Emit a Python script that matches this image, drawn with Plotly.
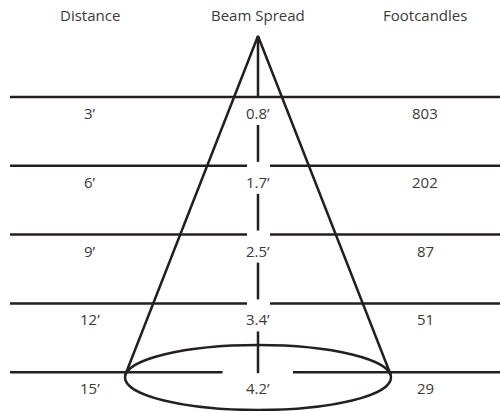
import plotly.graph_objects as go

# ---- data ----
headers = ["Distance", "Beam Spread", "Footcandles"]
distance_labels = ["3’", "6’", "9’", "12’", "15’"]
beam_spread_labels = ["0.8’", "1.7’", "2.5’", "3.4’", "4.2’"]
footcandle_labels = ["803", "202", "87", "51", "29"]

# ---- layout constants (pixel space) ----
W, H = 500, 411
FIRST_LINE_Y = 97
ROW_STEP = 68.8
COL_X = [90, 258, 425]
HEADER_Y = 15
LABEL_DY = 16
APEX = (258, 36)
ELL_CX, ELL_CY, ELL_RX, ELL_RY = 258, 377.5, 133, 32.5
INK = "#231f20"
TEXT = "#3a3a3a"
FONT = "Open Sans"
FSIZE = 15

n = len(distance_labels)
line_ys = [FIRST_LINE_Y + i * ROW_STEP for i in range(n)]

fig = go.Figure()

# horizontal row lines (with gaps around the centre labels)
hx, hy = [], []
for i, y in enumerate(line_ys):
    if i == 0:
        segs = [(10, W + 5)]
    elif i == n - 1:
        segs = [(10, 222.5), (293, W + 5)]
    else:
        segs = [(10, 247), (270, W + 5)]
    for a, b in segs:
        hx += [a, b, None]
        hy += [y, y, None]
fig.add_trace(go.Scatter(x=hx, y=hy, mode="lines",
                         line=dict(color=INK, width=2.5), hoverinfo="skip"))

# vertical centre axis, broken by labels
vx, vy = [APEX[0], APEX[0], None], [APEX[1], line_ys[0], None]
for i in range(n - 1):
    top = line_ys[i] + LABEL_DY + 12
    bot = line_ys[i + 1] - 4 if i + 1 < n - 1 else line_ys[i + 1] + 1
    vx += [APEX[0], APEX[0], None]
    vy += [top, bot, None]
fig.add_trace(go.Scatter(x=vx, y=vy, mode="lines",
                         line=dict(color=INK, width=2.5), hoverinfo="skip"))

# cone sides
fig.add_trace(go.Scatter(
    x=[ELL_CX - ELL_RX, APEX[0], ELL_CX + ELL_RX],
    y=[ELL_CY - 2, APEX[1], ELL_CY - 2],
    mode="lines", line=dict(color=INK, width=2.5), hoverinfo="skip"))

# base ellipse
fig.add_shape(type="circle", xref="x", yref="y",
              x0=ELL_CX - ELL_RX, x1=ELL_CX + ELL_RX,
              y0=ELL_CY - ELL_RY, y1=ELL_CY + ELL_RY,
              line=dict(color=INK, width=2.5))

# text
for x, h in zip(COL_X, headers):
    fig.add_annotation(x=x, y=HEADER_Y, text=h, showarrow=False,
                       font=dict(family=FONT, size=FSIZE, color=TEXT))
for i, y in enumerate(line_ys):
    for x, lab in zip(COL_X, [distance_labels[i], beam_spread_labels[i], footcandle_labels[i]]):
        fig.add_annotation(x=x, y=y + LABEL_DY, text=lab, showarrow=False,
                           font=dict(family=FONT, size=FSIZE, color=TEXT))

fig.update_layout(
    width=W, height=H, margin=dict(l=0, r=0, t=0, b=0),
    paper_bgcolor="white", plot_bgcolor="white", showlegend=False,
    xaxis=dict(range=[0, W], visible=False, fixedrange=True),
    yaxis=dict(range=[H, 0], visible=False, fixedrange=True),
)
fig.write_html("out.html", config={"displayModeBar": False},
               post_script="document.body.style.margin='0';document.body.style.overflow='hidden';")
